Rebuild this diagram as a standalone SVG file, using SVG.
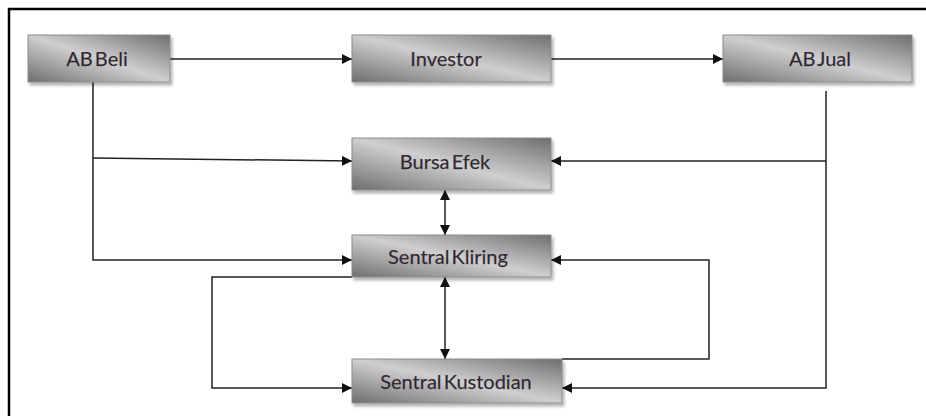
<svg xmlns="http://www.w3.org/2000/svg" width="926" height="416" viewBox="0 0 926 416">
<style>
.box{fill:url(#g);stroke:#8c8c8c;stroke-width:1;filter:url(#sh)}
.lbl{font-family:Lato,"Open Sans","Liberation Sans",sans-serif;font-size:20px;fill:#24243c;text-anchor:middle;stroke:#6b4a2a;stroke-width:0.25;word-spacing:-3px}
.c{fill:none;stroke:#222;stroke-width:1.5}
</style>
<defs>
<linearGradient id="g" x1="1" y1="0" x2="0" y2="1">
<stop offset="0" stop-color="#6e6e6e"/>
<stop offset="0.5" stop-color="#cfcfcf"/>
<stop offset="1" stop-color="#6e6e6e"/>
</linearGradient>
<filter id="sh" x="-10%" y="-20%" width="125%" height="150%">
<feGaussianBlur in="SourceAlpha" stdDeviation="1.5"/>
<feOffset dx="2" dy="3" result="b"/>
<feComponentTransfer><feFuncA type="linear" slope="0.3"/></feComponentTransfer>
<feMerge><feMergeNode/><feMergeNode in="SourceGraphic"/></feMerge>
</filter>
<marker id="a" viewBox="0 0 10 10" refX="10" refY="5" markerWidth="10" markerHeight="10" markerUnits="userSpaceOnUse" orient="auto-start-reverse">
<path d="M0,0 L10,5 L0,10 z" fill="#111"/>
</marker>
</defs>
<rect x="0" y="0" width="926" height="416" fill="#fff"/>
<rect x="9" y="9" width="930" height="420" fill="none" stroke="#000" stroke-width="2.5"/>
<g id="connectors">
<path class="c" d="M170,59 H352" marker-end="url(#a)"/>
<path class="c" d="M551,59 H723" marker-end="url(#a)"/>
<path class="c" d="M93,82 V260 H352" marker-end="url(#a)"/>
<path class="c" d="M93,158 L352,161" marker-end="url(#a)"/>
<path class="c" d="M826,91 V388 H562" marker-end="url(#a)"/>
<path class="c" d="M826,161 H551" marker-end="url(#a)"/>
<path class="c" d="M445,190 V235" marker-start="url(#a)" marker-end="url(#a)"/>
<path class="c" d="M445,277 V359" marker-start="url(#a)" marker-end="url(#a)"/>
<path class="c" d="M352,277 H212 V388 H352" marker-end="url(#a)"/>
<path class="c" d="M562,359 H709 V260 H551" marker-end="url(#a)"/>
</g>
<g id="ab-beli"><rect class="box" x="28" y="35" width="142" height="47"/><text class="lbl" x="97" y="65.5">AB Beli</text></g>
<g id="investor"><rect class="box" x="352" y="35" width="199" height="47"/><text class="lbl" x="446" y="65.5">Investor</text></g>
<g id="ab-jual"><rect class="box" x="723" y="35" width="189" height="47"/><text class="lbl" x="820" y="65.5">AB Jual</text></g>
<g id="bursa-efek"><rect class="box" x="352" y="138" width="199" height="52"/><text class="lbl" x="445" y="168.5">Bursa Efek</text></g>
<g id="sentral-kliring"><rect class="box" x="352" y="235" width="199" height="42"/><text class="lbl" x="448" y="263.5">Sentral Kliring</text></g>
<g id="sentral-kustodian"><rect class="box" x="352" y="359" width="210" height="44"/><text class="lbl" x="456" y="388.5">Sentral Kustodian</text></g>
</svg>
